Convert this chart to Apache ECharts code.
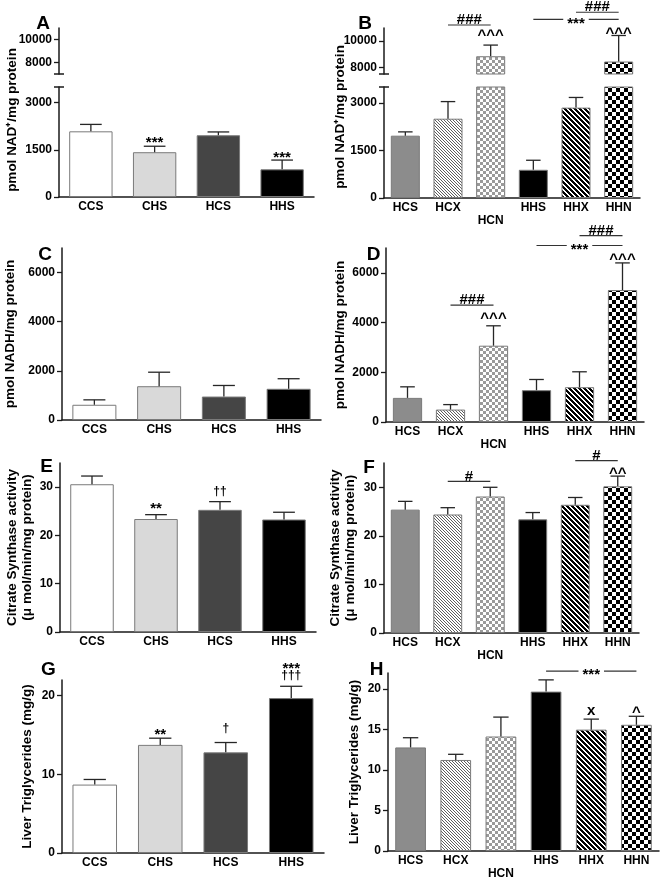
<!DOCTYPE html>
<html>
<head>
<meta charset="utf-8">
<script src="https://cdn.jsdelivr.net/npm/echarts@6/dist/echarts.min.js"></script>
<style>
  html, body { margin: 0; background: #fff; }
  #chart { width: 660px; height: 880px; }
</style>
</head>
<body>
<div id="chart"></div>
<script>
// groups
const groupsLeft = ['CCS', 'CHS', 'HCS', 'HHS']
const groupsRight = ['HCS', 'HCX', 'HCN', 'HHS', 'HHX', 'HHN']

// NAD+ (pmol/mg protein), mean and SEM
const nadLeft = [2090, 1425, 1965, 880]
const nadLeftSem = [220, 190, 105, 295]
const nadRight = [1965, 2500, 8850, 890, 2850, 8450]
const nadRightSem = [120, 540, 850, 300, 320, 1980]

// NADH (pmol/mg protein)
const nadhLeft = [620, 1375, 955, 1270]
const nadhLeftSem = [200, 570, 450, 410]
const nadhRight = [970, 500, 3070, 1280, 1400, 5310]
const nadhRightSem = [445, 200, 800, 430, 620, 1090]

// citrate synthase activity
const csLeft = [30.6, 23.4, 25.3, 23.3]
const csLeftSem = [1.7, 0.9, 1.7, 1.5]
const csRight = [25.4, 24.4, 28.1, 23.4, 26.4, 30.2]
const csRightSem = [1.7, 1.4, 1.9, 1.4, 1.5, 2.1]

// liver triglycerides (mg/g)
const tgLeft = [8.7, 13.75, 12.8, 19.7]
const tgLeftSem = [0.65, 0.85, 1.25, 1.5]
const tgRight = [12.8, 11.25, 14.15, 19.7, 15.0, 15.6]
const tgRightSem = [1.2, 0.7, 2.4, 1.45, 1.3, 1.05]

// axis ticks
const nadHighTicks = [8000, 10000]
const nadLowTicks = [0, 1500, 3000]
const nadhTicks = [0, 2000, 4000, 6000]
const csTicks = [0, 10, 20, 30]
const tgLeftTicks = [0, 10, 20]
const tgRightTicks = [0, 5, 10, 15, 20]

// significance marks: [category index, value, text]
const nadLeftMarks = [[1, 1845, '***'], [3, 1378, '***']]
const nadRightMarks = [[2, 10700, '^^^'], [5, 10900, '^^^']]
const nadhRightMarks = [[2, 4300, '^^^'], [5, 6700, '^^^']]
const csLeftMarks = [[1, 26.4, '**'], [2, 29.05, '††']]
const csRightMarks = [[5, 33.7, '^^']]
const tgLeftMarks = [[1, 15.5, '**'], [2, 15.86, '†'], [3, 23.9, '***'], [3, 22.6, '†††']]
const tgRightMarks = [[4, 17.27, 'x'], [5, 17.6, '^']]

// brackets: [from category, to category, value, text]
const nadRightBrackets = [[1, 2, 11230, '###'], [3, 5, 11650, '***'], [4, 5, 12200, '###']]
const nadhRightBrackets = [[1, 2, 4700, '###'], [3, 5, 7100, '***'], [4, 5, 7500, '###']]
const csRightBrackets = [[1, 2, 31.2, '#'], [4, 5, 35.5, '#']]
const tgRightBrackets = [[3, 5, 22.24, '***']]

const FONT = "'Liberation Sans', Arial, Helvetica, sans-serif"
const AXIS = '#1a1a1a'

const mod = (a, n) => ((a % n) + n) % n
function tile(size, bg, fg, on) {
  const c = document.createElement('canvas')
  c.width = size
  c.height = size
  const ctx = c.getContext('2d')
  ctx.fillStyle = bg
  ctx.fillRect(0, 0, size, size)
  ctx.fillStyle = fg
  for (let y = 0; y < size; y++) {
    for (let x = 0; x < size; x++) {
      if (on(x, y)) ctx.fillRect(x, y, 1, 1)
    }
  }
  return { image: c, repeat: 'repeat' }
}
const fineStripe = tile(3, '#ffffff', '#5e5e5e', (x, y) => mod(x - y, 3) === 0)
const boldStripe = tile(5, '#ffffff', '#000000', (x, y) => mod(x - y, 5) < 3)
const fineCheck = tile(6, '#ffffff', '#9a9a9a', (x, y) => ((x / 3 | 0) + (y / 3 | 0)) % 2 === 0)
const boldCheck = tile(8, '#ffffff', '#000000', (x, y) => ((x / 4 | 0) + (y / 4 | 0)) % 2 === 0)

const leftFills = ['#ffffff', '#d9d9d9', '#454545', '#000000']
const rightFills = ['#8c8c8c', fineStripe, fineCheck, '#000000', boldStripe, boldCheck]

const option = {
  animation: false,
  backgroundColor: '#fff',
  textStyle: { fontFamily: FONT },
  grid: [],
  xAxis: [],
  yAxis: [],
  series: []
}

function errorBar(params, api) {
  const i = api.value(0)
  const m = api.value(1)
  const s = api.value(2)
  const a = api.coord([i, m])
  const b = api.coord([i, m + s])
  const half = api.size([1, 0])[0] * 0.17
  const style = { stroke: '#262626', lineWidth: 1.3 }
  return {
    type: 'group',
    children: [
      { type: 'line', shape: { x1: a[0], y1: a[1], x2: b[0], y2: b[1] }, style },
      { type: 'line', shape: { x1: b[0] - half, y1: b[1], x2: b[0] + half, y2: b[1] }, style }
    ]
  }
}

function addPanel(p) {
  const gi = option.grid.length
  option.grid.push({ left: p.box[0], top: p.box[1], width: p.box[2], height: p.box[3] })
  option.xAxis.push({
    type: 'category',
    gridIndex: gi,
    data: p.cats,
    show: p.showX !== false,
    axisLine: { lineStyle: { color: AXIS, width: 1.5 } },
    axisTick: { show: false },
    axisLabel: {
      color: '#000',
      fontWeight: 'bold',
      fontSize: 12,
      margin: 3,
      lineHeight: 13,
      formatter: v => (v === 'HCN' ? '\nHCN' : v)
    }
  })
  option.yAxis.push({
    type: 'value',
    gridIndex: gi,
    min: p.min,
    max: p.max,
    splitLine: { show: false },
    axisLine: { show: true, lineStyle: { color: AXIS, width: 1.5 } },
    axisTick: { show: true, length: 5, customValues: p.ticks, lineStyle: { color: AXIS, width: 1.3 } },
    axisLabel: {
      customValues: p.ticks,
      color: '#000',
      fontWeight: 'bold',
      fontSize: 12,
      margin: 7,
      formatter: v => String(v)
    },
    name: p.name || '',
    nameLocation: 'middle',
    nameGap: p.nameGap || 30,
    nameTextStyle: { color: '#000', fontWeight: 'bold', fontSize: 13.5, lineHeight: 15 }
  })
  option.series.push({
    type: 'bar',
    xAxisIndex: gi,
    yAxisIndex: gi,
    barWidth: '68%',
    clip: true,
    itemStyle: { borderColor: '#7a7a7a', borderWidth: 1 },
    data: p.vals.map((v, i) => ({ value: v < p.min ? '-' : v, itemStyle: { color: p.fills[i] } }))
  })
  option.series.push({
    type: 'custom',
    xAxisIndex: gi,
    yAxisIndex: gi,
    z: 3,
    renderItem: errorBar,
    encode: { x: 0, y: 1 },
    data: p.vals.map((v, i) => [i, v, p.sems[i]]).filter(d => d[1] >= p.min && d[1] + d[2] <= p.max)
  })
  return gi
}

const nadTitle = 'pmol NAD⁺/mg protein'
const nadhTitle = 'pmol NADH/mg protein'
const csTitle = 'Citrate Synthase activity\n(μ mol/min/mg protein)'
const tgTitle = 'Liver Triglycerides (mg/g)'

const gAup = addPanel({ box: [59, 28, 255, 46], cats: groupsLeft, vals: nadLeft, sems: nadLeftSem, fills: leftFills, min: 7000, max: 11000, ticks: nadHighTicks, showX: false })
const gA = addPanel({ box: [59, 87, 255, 110], cats: groupsLeft, vals: nadLeft, sems: nadLeftSem, fills: leftFills, min: 0, max: 3500, ticks: nadLowTicks })
const gBup = addPanel({ box: [384, 28, 256, 46], cats: groupsRight, vals: nadRight, sems: nadRightSem, fills: rightFills, min: 7500, max: 11000, ticks: nadHighTicks, showX: false })
const gB = addPanel({ box: [384, 87, 256, 111], cats: groupsRight, vals: nadRight, sems: nadRightSem, fills: rightFills, min: 0, max: 3500, ticks: nadLowTicks })
const gC = addPanel({ box: [62, 248, 259, 172], cats: groupsLeft, vals: nadhLeft, sems: nadhLeftSem, fills: leftFills, min: 0, max: 7000, ticks: nadhTicks, name: nadhTitle, nameGap: 44 })
const gD = addPanel({ box: [386, 248, 258, 174], cats: groupsRight, vals: nadhRight, sems: nadhRightSem, fills: rightFills, min: 0, max: 7000, ticks: nadhTicks, name: nadhTitle, nameGap: 38 })
const gE = addPanel({ box: [60, 463, 256, 169], cats: groupsLeft, vals: csLeft, sems: csLeftSem, fills: leftFills, min: 0, max: 35, ticks: csTicks, name: csTitle, nameGap: 25 })
const gF = addPanel({ box: [384, 463, 255, 170], cats: groupsRight, vals: csRight, sems: csRightSem, fills: rightFills, min: 0, max: 35, ticks: csTicks, name: csTitle, nameGap: 26 })
const gG = addPanel({ box: [62, 680, 262, 173], cats: groupsLeft, vals: tgLeft, sems: tgLeftSem, fills: leftFills, min: 0, max: 22, ticks: tgLeftTicks, name: tgTitle, nameGap: 27 })
const gH = addPanel({ box: [388, 673, 271, 180], cats: groupsRight, vals: tgRight, sems: tgRightSem, fills: rightFills, min: 0, max: 22, ticks: tgRightTicks, name: tgTitle, nameGap: 26 })

const chart = echarts.init(document.getElementById('chart'))
chart.setOption(option)

// annotations placed through the grids' own scales
const graphic = []
const px = (gi, cat, val) => chart.convertToPixel({ gridIndex: gi }, [cat, val])
const inkShift = (t, size) => (/[*^]/.test(t) ? size * 0.27 : 0)

function addMarks(gi, marks) {
  marks.forEach(([cat, val, text]) => {
    const size = text.includes('†') ? 12 : 15
    const p = px(gi, cat, val)
    graphic.push({
      type: 'text', x: p[0], y: p[1] + inkShift(text, size), z: 10,
      style: { text, font: `bold ${size}px ${FONT}`, fill: '#000', align: 'center', verticalAlign: 'middle' }
    })
  })
}
function addBrackets(gi, brackets) {
  brackets.forEach(([from, to, val, text]) => {
    const a = px(gi, from, val)
    const b = px(gi, to, val)
    graphic.push({
      type: 'line', z: 10,
      shape: { x1: a[0], y1: a[1], x2: b[0], y2: b[1] },
      style: { stroke: '#333', lineWidth: 1.2 }
    })
    const inline = text.includes('*')
    graphic.push({
      type: 'text', z: 11,
      x: (a[0] + b[0]) / 2,
      y: inline ? a[1] + inkShift(text, 15) : a[1] - 5,
      style: {
        text, font: `bold 15px ${FONT}`, fill: '#000', align: 'center', verticalAlign: 'middle',
        backgroundColor: inline ? '#fff' : 'transparent', padding: inline ? [0, 4] : 0
      }
    })
  })
}

addMarks(gA, nadLeftMarks)
addMarks(gBup, nadRightMarks)
addBrackets(gBup, nadRightBrackets)
addMarks(gD, nadhRightMarks)
addBrackets(gD, nadhRightBrackets)
addMarks(gE, csLeftMarks)
addMarks(gF, csRightMarks)
addBrackets(gF, csRightBrackets)
addMarks(gG, tgLeftMarks)
addMarks(gH, tgRightMarks)
addBrackets(gH, tgRightBrackets)

// axis break marks for the split NAD+ axes
;[[gAup, gA, 59], [gBup, gB, 384]].forEach(([up, low, x]) => {
  const yTop = px(low, 0, option.yAxis[low].max)[1]
  const yBottom = px(up, 0, option.yAxis[up].min)[1]
  ;[yTop, yBottom].forEach(y => {
    graphic.push({ type: 'line', z: 10, shape: { x1: x - 5, y1: y, x2: x + 5, y2: y }, style: { stroke: AXIS, lineWidth: 1.5 } })
  })
})

// rotated titles spanning the split axes
graphic.push({ type: 'text', x: 12, y: 120, rotation: Math.PI / 2, style: { text: nadTitle, font: `bold 13.5px ${FONT}`, fill: '#000', align: 'center', verticalAlign: 'middle' } })
graphic.push({ type: 'text', x: 340, y: 117, rotation: Math.PI / 2, style: { text: nadTitle, font: `bold 13.5px ${FONT}`, fill: '#000', align: 'center', verticalAlign: 'middle' } })

// panel letters
;[['A', 43, 24], ['B', 365, 24], ['C', 45, 255], ['D', 373.5, 255], ['E', 46.5, 467], ['F', 369, 468], ['G', 48.5, 670], ['H', 376.5, 670]].forEach(([t, x, y]) => {
  graphic.push({ type: 'text', x, y, style: { text: t, font: `bold 19px ${FONT}`, fill: '#000', align: 'center', verticalAlign: 'middle' } })
})

chart.setOption({ graphic })
</script>
</body>
</html>
